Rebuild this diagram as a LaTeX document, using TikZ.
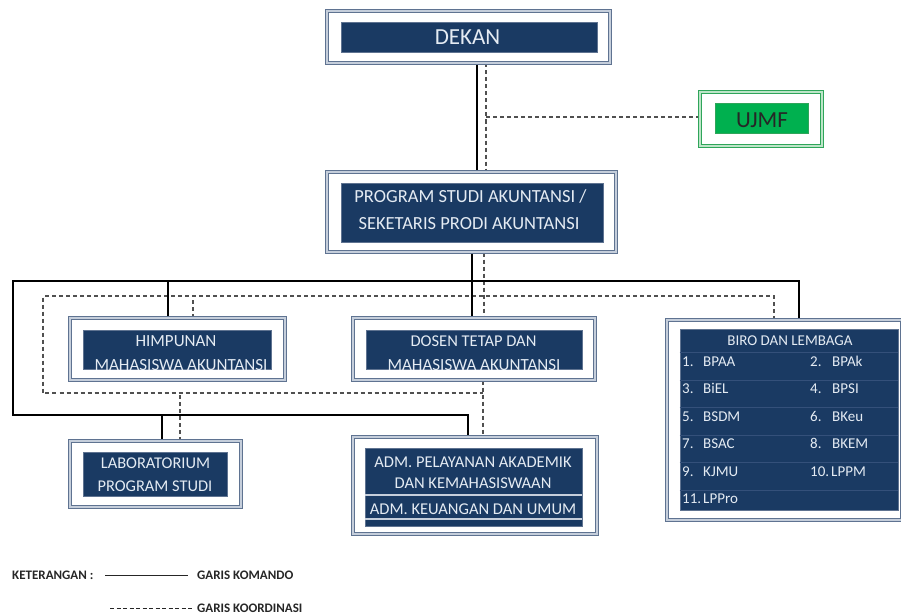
\documentclass[tikz,border=0pt]{standalone}
\usepackage{fontspec}
\setmainfont{Carlito}
\usetikzlibrary{backgrounds}
\definecolor{navy}{HTML}{1A3A63}
\definecolor{navyl}{HTML}{34507A}
\definecolor{txt}{HTML}{E4EBF3}
\definecolor{frd}{HTML}{5F7391}
\definecolor{frl}{HTML}{C5CEDB}
\definecolor{grn}{HTML}{00B04F}
\definecolor{grd}{HTML}{2FA55A}
\definecolor{grl}{HTML}{BDE5C8}
\definecolor{dsh}{HTML}{505050}
\definecolor{legc}{HTML}{262626}
\newcommand\myfs[1]{\fontsize{#1}{#1}\selectfont}
\begin{document}
\begin{tikzpicture}[x=1pt,y=-1pt,
  outerbox/.style={draw=frd, line width=1pt, double=frl, double distance=1.2pt, fill=white, inner sep=0pt},
  gouterbox/.style={outerbox, draw=grd, double=grl},
  navybox/.style={fill=navy, draw=frd, line width=0.7pt, inner sep=0pt},
  greenbox/.style={fill=grn, draw=grd, line width=0.7pt, inner sep=0pt},
  lbl/.style={text=txt, inner sep=0pt, anchor=base},
  cmd/.style={line width=2.5pt, draw=black},
  crd/.style={line width=1.2pt, draw=dsh, dash pattern=on 4pt off 3pt},
  rowsep/.style={draw=navyl, line width=0.6pt},
  admsep/.style={draw=frl, line width=1.4pt},
  leg/.style={text=legc, inner sep=0pt, anchor=base west, font=\bfseries\myfs{13}},
]
\useasboundingbox (0,0) rectangle (901,615);

% ---- boxes ----
\node[outerbox, minimum width=283pt, minimum height=52pt] (dekan) at (468.5,37) {};
\node[navybox, minimum width=256pt, minimum height=30pt] (dekanin) at (469,37) {};
\node[lbl, font=\myfs{23}] (dekant) at (467.5,44.4) {DEKAN};

\node[gouterbox, minimum width=122pt, minimum height=54pt] (ujmf) at (761,119) {};
\node[greenbox, minimum width=93pt, minimum height=30pt] (ujmfin) at (761.5,118) {};
\node[lbl, text=black!85, font=\myfs{23}] (ujmft) at (762,127) {UJMF};

\node[outerbox, minimum width=289pt, minimum height=80pt] (ps) at (471.5,212) {};
\node[navybox, minimum width=262pt, minimum height=59pt] (psin) at (472,212.5) {};
\node[lbl, font=\myfs{18.5}] (ps1) at (470.5,202.5) {PROGRAM STUDI AKUNTANSI /};
\node[lbl, font=\myfs{18.5}] (ps2) at (469,229.5) {SEKETARIS PRODI AKUNTANSI};

\node[outerbox, minimum width=215pt, minimum height=62pt] (himp) at (177.5,349) {};
\node[navybox, minimum width=188pt, minimum height=39pt] (himpin) at (177,349.5) {};
\begin{scope}
\clip (himpin.south west) rectangle (himpin.north east);
\node[lbl, font=\myfs{17}] (himp1) at (176,346) {HIMPUNAN};
\node[lbl, font=\myfs{17}] (himp2) at (181,370.5) {MAHASISWA AKUNTANSI};
\end{scope}

\node[outerbox, minimum width=242pt, minimum height=62pt] (dosen) at (474,349) {};
\node[navybox, minimum width=216pt, minimum height=39pt] (dosenin) at (474,349.5) {};
\begin{scope}
\clip (dosenin.south west) rectangle (dosenin.north east);
\node[lbl, font=\myfs{16.5}] (dosen1) at (473.5,346) {DOSEN TETAP DAN};
\node[lbl, font=\myfs{17}] (dosen2) at (474,370.5) {MAHASISWA AKUNTANSI};
\end{scope}

\node[outerbox, minimum width=235pt, minimum height=200pt] (biro) at (784.5,420) {};
\node[navybox, minimum width=218pt, minimum height=181pt] (biroin) at (789,419.5) {};
\foreach \y in {352,380,407.5,435,462.5,490}
  \draw[rowsep] (biroin.west |- 0,\y) -- (biroin.east |- 0,\y);
\node[lbl, font=\myfs{15}] (birot) at (790,345) {BIRO DAN LEMBAGA};
\foreach \n/\t/\xa/\xb/\y in {1/BPAA/682/703/366.5, 2/BPAk/810/832/366.5,
  3/BiEL/682/703/393.5, 4/BPSI/810/832/393.5,
  5/BSDM/682/703/421, 6/BKeu/810/832/421,
  7/BSAC/682/703/448.5, 8/BKEM/810/832/448.5,
  9/KJMU/682/703/476, 10/LPPM/810/831/476,
  11/LPPro/682/703/503.5}{
  \node[lbl, anchor=base west, font=\myfs{15}] (bn\n) at (\xa,\y) {\n.};
  \node[lbl, anchor=base west, font=\myfs{15}] (bt\n) at (\xb,\y) {\t};
}

\node[outerbox, minimum width=171pt, minimum height=66pt] (lab) at (155.5,474) {};
\node[navybox, minimum width=144pt, minimum height=44pt] (labin) at (155,474) {};
\node[lbl, font=\myfs{16.4}] (lab1) at (155.5,468) {LABORATORIUM};
\node[lbl, font=\myfs{16.4}] (lab2) at (155,491) {PROGRAM STUDI};

\node[outerbox, minimum width=244pt, minimum height=97pt] (adm) at (475,485.5) {};
\node[navybox, minimum width=217pt, minimum height=78pt] (admin) at (473.5,487) {};
\draw[admsep] (admin.west |- 0,495) -- (admin.east |- 0,495);
\draw[admsep] (admin.west |- 0,519) -- (admin.east |- 0,519);
\node[lbl, font=\myfs{16.5}] (adm1) at (473,467) {ADM. PELAYANAN AKADEMIK};
\node[lbl, font=\myfs{16.5}] (adm2) at (473,488) {DAN KEMAHASISWAAN};
\node[lbl, font=\myfs{16.5}] (adm3) at (473,514) {ADM. KEUANGAN DAN UMUM};

% ---- connectors ----
\coordinate (s1) at (477,0);
\coordinate (s2) at (472,0);
\coordinate (busL) at (13,281);
\coordinate (busR) at (799,281);
\coordinate (low) at (13,415);
\coordinate (sa) at (468,0);
\coordinate (sh) at (168,0);
\coordinate (sl) at (162,0);
\coordinate (d1) at (486,0);
\coordinate (uj) at (486,117);
\coordinate (d2) at (484,0);
\coordinate (dl) at (43,296);
\coordinate (dr) at (774,296);
\coordinate (dlow) at (43,393);
\coordinate (d3) at (483,0);
\coordinate (dh) at (193,0);
\coordinate (dlab) at (180,0);

\begin{scope}[on background layer]
\draw[crd] (dekan.south -| d1) -- (ps.north -| d1);
\draw[crd] (uj) -- (uj -| ujmf.west);
\draw[crd] (ps.south -| d2) -- (dosen.north -| d2);
\draw[crd] (biro.north -| dr) -- (dr) -- (dl) -- (dlow) -- (dlow -| d3);
\draw[crd] (dosen.south -| d3) -- (adm.north -| d3);
\draw[crd] (himp.north -| dh) -- (dl -| dh);
\draw[crd] (lab.north -| dlab) -- (dlow -| dlab);

\draw[cmd] (dekan.south -| s1) -- (ps.north -| s1);
\draw[cmd] (ps.south -| s2) -- (dosen.north -| s2);
\draw[cmd] (biro.north -| busR) -- (busR) -- (busL) -- (low) -- (low -| sa) -- (adm.north -| sa);
\draw[cmd] (himp.north -| sh) -- (busL -| sh);
\draw[cmd] (lab.north -| sl) -- (low -| sl);
\end{scope}

% ---- legend ----
\node[leg] (ket) at (12,579) {KETERANGAN :};
\coordinate (ls1) at (105,575);
\coordinate (ls2) at (188,575);
\coordinate (ld1) at (110,608);
\coordinate (ld2) at (193,608);
\draw[line width=0.8pt, draw=legc] (ls1) -- (ls2);
\draw[line width=0.8pt, draw=legc, dash pattern=on 4pt off 2.5pt] (ld1) -- (ld2);
\node[leg] (gk) at (197,579) {GARIS KOMANDO};
\node[leg] (gko) at (197,612) {GARIS KOORDINASI};
\end{tikzpicture}
\end{document}
